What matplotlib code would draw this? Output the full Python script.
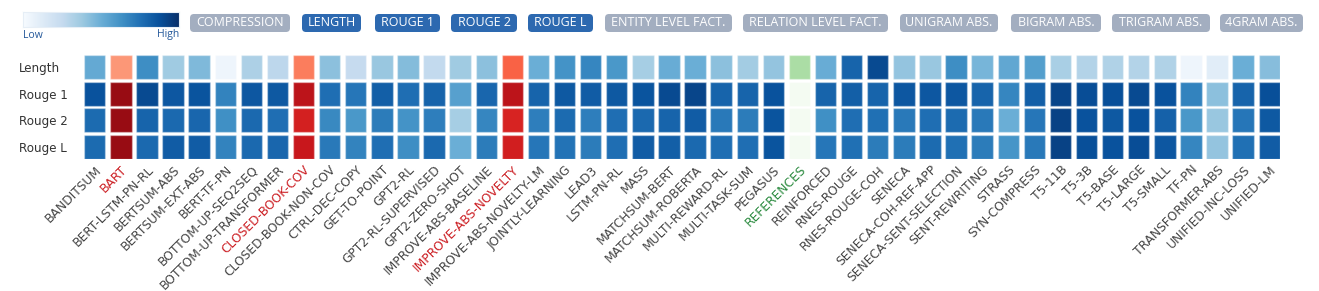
import matplotlib
matplotlib.use("Agg")
import matplotlib.pyplot as plt
from matplotlib.patches import FancyBboxPatch
import numpy as np

models = ['BANDITSUM', 'BART', 'BERT-LSTM-PN-RL', 'BERTSUM-ABS', 'BERTSUM-EXT-ABS',
          'BERT-TF-PN', 'BOTTOM-UP-SEQ2SEQ', 'BOTTOM-UP-TRANSFORMER', 'CLOSED-BOOK-COV',
          'CLOSED-BOOK-NON-COV', 'CTRL-DEC-COPY', 'GET-TO-POINT', 'GPT2-RL',
          'GPT2-RL-SUPERVISED', 'GPT2-ZERO-SHOT', 'IMPROVE-ABS-BASELINE',
          'IMPROVE-ABS-NOVELTY', 'IMPROVE-ABS-NOVELTY-LM', 'JOINTLY-LEARNING', 'LEAD3',
          'LSTM-PN-RL', 'MASS', 'MATCHSUM-BERT', 'MATCHSUM-ROBERTA', 'MULTI-REWARD-RL',
          'MULTI-TASK-SUM', 'PEGASUS', 'REFERENCES', 'REINFORCED', 'RNES-ROUGE',
          'RNES-ROUGE-COH', 'SENECA', 'SENECA-COH-REF-APP', 'SENECA-SENT-SELECTION',
          'SENT-REWRITING', 'STRASS', 'SYN-COMPRESS', 'T5-11B', 'T5-3B', 'T5-BASE',
          'T5-LARGE', 'T5-SMALL', 'TF-PN', 'TRANSFORMER-ABS', 'UNIFIED-INC-LOSS',
          'UNIFIED-LM']
red_models = ['BART', 'CLOSED-BOOK-COV', 'IMPROVE-ABS-NOVELTY']
green_models = ['REFERENCES']

metrics = ['Length', 'Rouge 1', 'Rouge 2', 'Rouge L']

length = [0.52, 0.36, 0.64, 0.37, 0.45, 0.05, 0.33, 0.28, 0.44, 0.42,
          0.25, 0.39, 0.44, 0.26, 0.37, 0.42, 0.52, 0.50, 0.62, 0.67,
          0.60, 0.35, 0.51, 0.50, 0.42, 0.36, 0.40, 0.34, 0.51, 0.80,
          0.90, 0.40, 0.39, 0.64, 0.47, 0.53, 0.57, 0.34, 0.31, 0.32,
          0.31, 0.32, 0.05, 0.11, 0.50, 0.43]
rouge1 = [0.87, 0.90, 0.90, 0.85, 0.86, 0.68, 0.85, 0.84, 0.80, 0.76,
          0.73, 0.82, 0.76, 0.80, 0.56, 0.79, 0.80, 0.80, 0.84, 0.83,
          0.84, 0.86, 0.90, 0.92, 0.80, 0.80, 0.87, 0.02, 0.80, 0.82,
          0.80, 0.85, 0.85, 0.85, 0.80, 0.67, 0.82, 0.92, 0.89, 0.88,
          0.90, 0.87, 0.68, 0.42, 0.80, 0.88]
rouge2 = [0.77, 0.90, 0.80, 0.78, 0.79, 0.63, 0.78, 0.76, 0.72, 0.66,
          0.60, 0.71, 0.62, 0.70, 0.35, 0.67, 0.71, 0.70, 0.77, 0.70,
          0.76, 0.78, 0.80, 0.83, 0.72, 0.71, 0.86, 0.02, 0.63, 0.76,
          0.75, 0.72, 0.76, 0.77, 0.72, 0.50, 0.73, 0.93, 0.87, 0.84,
          0.87, 0.81, 0.60, 0.39, 0.73, 0.84]
rougeL = [0.77, 0.90, 0.78, 0.83, 0.83, 0.68, 0.78, 0.79, 0.76, 0.72,
          0.68, 0.76, 0.64, 0.78, 0.50, 0.71, 0.73, 0.73, 0.74, 0.71,
          0.76, 0.83, 0.82, 0.78, 0.76, 0.76, 0.86, 0.02, 0.73, 0.75,
          0.71, 0.71, 0.77, 0.75, 0.71, 0.61, 0.72, 0.93, 0.88, 0.87,
          0.89, 0.85, 0.67, 0.40, 0.75, 0.83]

buttons = ['COMPRESSION', 'LENGTH', 'ROUGE 1', 'ROUGE 2', 'ROUGE L',
           'ENTITY LEVEL FACT.', 'RELATION LEVEL FACT.', 'UNIGRAM ABS.',
           'BIGRAM ABS.', 'TRIGRAM ABS.', '4GRAM ABS.']
buttons_on = ['LENGTH', 'ROUGE 1', 'ROUGE 2', 'ROUGE L']
# button edges in pixels (layout)
btn_left = [190, 302, 375, 451, 528, 605, 743, 900, 1011, 1112, 1220]
btn_right = [290, 361, 440, 517, 593, 732, 888, 998, 1101, 1210, 1303]

W, H = 1319, 291
fig = plt.figure(figsize=(W / 100, H / 100), dpi=100)

blues = plt.get_cmap('Blues')
reds = plt.get_cmap('Reds')
greens = plt.get_cmap('Greens')


def cell_color(name, v):
    if name in red_models:
        return reds(v)
    if name in green_models:
        return greens(v)
    return blues(v)


ax = fig.add_axes([84 / W, 1 - 159 / H, 1196 / W, 104 / H])
x = np.arange(len(models))
rows = [length, rouge1, rouge2, rougeL]
for r, vals in enumerate(rows):
    cols = [cell_color(m, v) for m, v in zip(models, vals)]
    ax.bar(x, 0.9, bottom=r - 0.45, width=0.82, color=cols,
           edgecolor=(1, 1, 1, 0.35), linewidth=1)

ax.set_xlim(-0.41, len(models) - 1 + 0.41)
ax.set_ylim(3.45, -0.45)
for s in ax.spines.values():
    s.set_visible(False)
ax.tick_params(length=0)
ax.set_yticks(range(len(metrics)))
ax.set_yticklabels(metrics, fontsize=8.6, color='#333333', ha='left')
ax.tick_params(axis='y', pad=47)
ax.set_xticks(x)
ax.set_xticklabels(models, rotation=45, ha='right', rotation_mode='anchor',
                   fontsize=8.8, color='#444444')
ax.tick_params(axis='x', pad=3)
for lab in ax.get_xticklabels():
    t = lab.get_text()
    if t in red_models:
        lab.set_color('#cc1f24')
    elif t in green_models:
        lab.set_color('#2a8a3e')

# gradient legend
cax = fig.add_axes([23 / W, 1 - 27 / H, 156 / W, 15 / H])
cax.imshow(np.linspace(0.03, 1, 256)[None, :], aspect='auto', cmap='Blues')
cax.set_xticks([])
cax.set_yticks([])
for s in cax.spines.values():
    s.set_color('#e6eef6')
    s.set_linewidth(0.8)
fig.text(23 / W, 1 - 35 / H, 'Low', fontsize=7.5, color='#24589a',
         family='Open Sans', ha='left', va='center')
fig.text(179 / W, 1 - 35 / H, 'High', fontsize=7.5, color='#24589a',
         family='Open Sans', ha='right', va='center')

# buttons, drawn on an overlay in pixel units
bax = fig.add_axes([0, 0, 1, 1], zorder=-1)
bax.set_xlim(0, W)
bax.set_ylim(H, 0)
bax.axis('off')
for name, l, r in zip(buttons, btn_left, btn_right):
    fc = '#2d69b0' if name in buttons_on else '#a3aec0'
    box = FancyBboxPatch((l, 14), r - l, 18,
                         boxstyle='round,pad=0,rounding_size=4',
                         fc=fc, ec='none')
    bax.add_patch(box)
    bax.text((l + r) / 2, 23, name, fontsize=9, color='white',
             family='Open Sans', ha='center', va='center')

fig.savefig('out.png', dpi=100)
